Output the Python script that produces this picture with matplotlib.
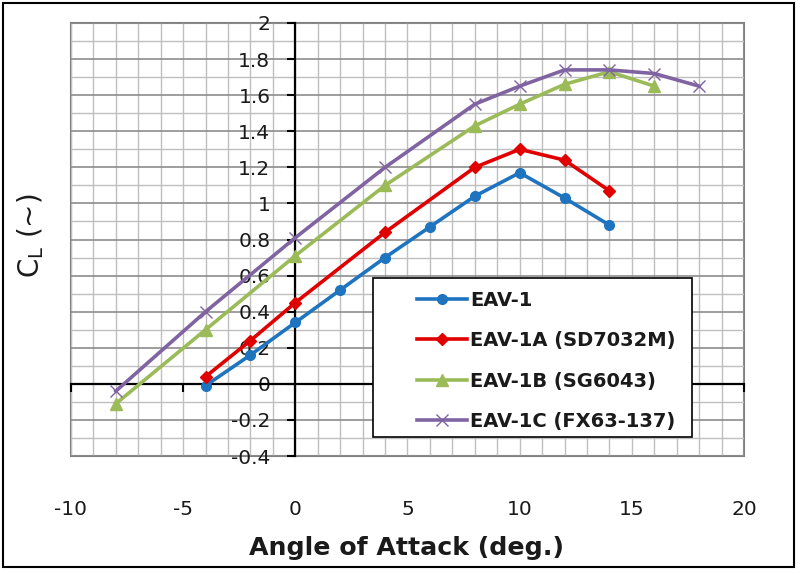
import matplotlib.pyplot as plt
import numpy as np
from matplotlib.patches import Rectangle

plt.rcParams['font.family'] = ['DejaVu Sans']
plt.rcParams['axes.unicode_minus'] = False

# Data
aoa_1 = [-4, -2, 0, 2, 4, 6, 8, 10, 12, 14]
cl_1 = [-0.01, 0.16, 0.34, 0.52, 0.70, 0.87, 1.04, 1.17, 1.03, 0.88]

aoa_1a = [-4, -2, 0, 4, 8, 10, 12, 14]
cl_1a = [0.04, 0.24, 0.45, 0.84, 1.20, 1.30, 1.24, 1.07]

aoa_1b = [-8, -4, 0, 4, 8, 10, 12, 14, 16]
cl_1b = [-0.11, 0.30, 0.71, 1.10, 1.43, 1.55, 1.66, 1.73, 1.65]

aoa_1c = [-8, -4, 0, 4, 8, 10, 12, 14, 16, 18]
cl_1c = [-0.04, 0.40, 0.81, 1.20, 1.55, 1.65, 1.74, 1.74, 1.72, 1.65]

labels = ['EAV-1', 'EAV-1A (SD7032M)', 'EAV-1B (SG6043)', 'EAV-1C (FX63-137)']

W, H = 803, 574
fig = plt.figure(figsize=(W / 100, H / 100), dpi=100)
ax = fig.add_axes([71 / W, 1 - 456 / H, (744 - 71) / W, (456 - 23) / H])

ax.set_xlim(-10, 20)
ax.set_ylim(-0.4, 2.0)

# grid
ax.set_xticks(np.arange(-10, 21, 5))
ax.set_xticks(np.arange(-10, 21, 1), minor=True)
yt = np.round(np.arange(-0.4, 2.01, 0.2), 1)
ax.set_yticks(yt)
ax.set_yticklabels(['%g' % v for v in yt])
ax.set_yticks(np.arange(-0.4, 2.01, 0.1), minor=True)
ax.set_axisbelow(True)
ax.grid(which='minor', color='#BFBFBF', linewidth=1.0)
ax.grid(which='major', axis='x', color='#BFBFBF', linewidth=1.0)
ax.grid(which='major', axis='y', color='#8C8C8C', linewidth=1.2)
ax.patch.set_edgecolor('#808080')
ax.patch.set_linewidth(1.5)

# axes crossing at zero
for s in ['top', 'right']:
    ax.spines[s].set_visible(False)
ax.spines['left'].set_position(('data', 0))
ax.spines['bottom'].set_position(('data', 0))
for s in ['left', 'bottom']:
    ax.spines[s].set_color('black')
    ax.spines[s].set_linewidth(1.6)
ax.tick_params(which='minor', length=0)
ax.tick_params(axis='x', which='major', direction='out', length=6, width=1.5,
               labelbottom=False)
ax.tick_params(axis='y', which='major', direction='out', length=6, width=1.5,
               pad=12, labelsize=14.5, labelcolor='#1A1A1A')

sec = ax.secondary_xaxis('bottom')
sec.set_xticks(np.arange(-10, 21, 5))
sec.tick_params(length=0, pad=32, labelsize=14.5, labelcolor='#1A1A1A')
sec.spines['bottom'].set_visible(False)

# series
ax.plot(aoa_1, cl_1, color='#1F74C0', lw=2.6, marker='o', ms=7, label=labels[0], zorder=3)
ax.plot(aoa_1a, cl_1a, color='#E00000', lw=2.6, marker='D', ms=6.5, label=labels[1], zorder=3)
ax.plot(aoa_1b, cl_1b, color='#9BBB59', lw=2.6, marker='^', ms=8.5, label=labels[2], zorder=3)
ax.plot(aoa_1c, cl_1c, color='#8064A2', lw=2.6, marker='x', ms=9, mew=1.0, label=labels[3], zorder=3)

# legend box
box = Rectangle((373 / W, 1 - 437 / H), (692 - 373) / W, (437 - 278) / H,
                transform=fig.transFigure, facecolor='white', edgecolor='black',
                linewidth=1.2, zorder=4, clip_on=False)
ax.add_patch(box)
leg = ax.legend(loc='upper left', bbox_to_anchor=(407 / W, 1 - 281 / H),
                bbox_transform=fig.transFigure, frameon=False, borderpad=0,
                handlelength=2.6, handletextpad=0.15, labelspacing=1.1,
                prop={'size': 14, 'weight': 'bold'})
leg.set_zorder(6)
for t in leg.get_texts():
    t.set_color('#1A1A1A')

fig.text(407 / W, 1 - 548 / H, 'Angle of Attack (deg.)', ha='center', va='center',
         fontsize=18.2, fontweight='bold', color='#1A1A1A')
fig.text(31 / W, 1 - 236 / H, r'C$_{\mathrm{L}}$ (~)', ha='center', va='center',
         rotation=90, fontsize=20, color='#1A1A1A')

# outer frame
fig.add_artist(Rectangle((3 / W, 1 - 567 / H), (794 - 3) / W, (567 - 3) / H,
                         transform=fig.transFigure, fill=False, edgecolor='black',
                         linewidth=1.5))

fig.savefig('out.png', dpi=100)
